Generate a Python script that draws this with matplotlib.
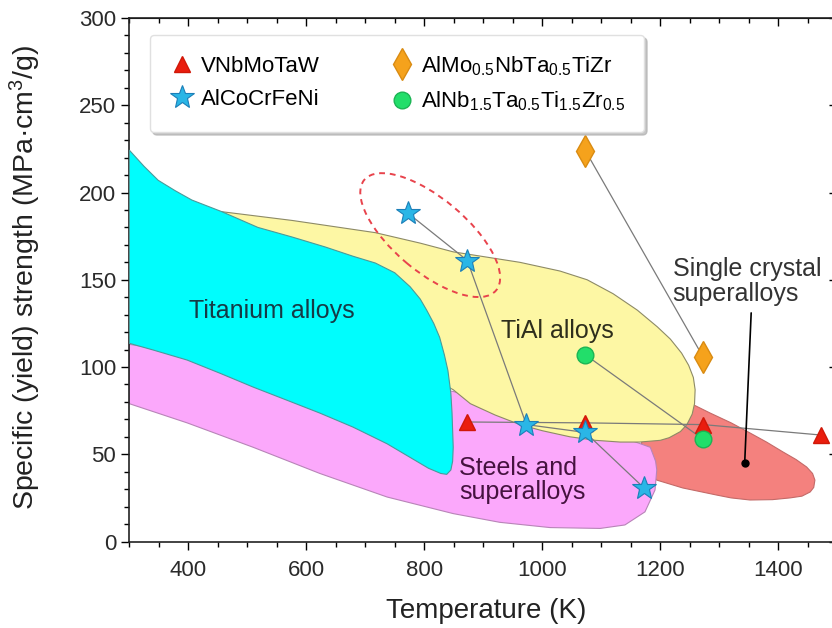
import numpy as np
import matplotlib
matplotlib.use('Agg')
import matplotlib.pyplot as plt
import matplotlib.transforms as mtransforms
from matplotlib.patches import Polygon, Ellipse

plt.rcParams['font.family'] = ['Liberation Sans', 'DejaVu Sans']
plt.rcParams['mathtext.fontset'] = 'custom'
plt.rcParams['mathtext.rm'] = 'Liberation Sans'
plt.rcParams['mathtext.it'] = 'Liberation Sans:italic'

# measured points (temperature K, specific strength MPa cm3/g)
vnb_T = [873, 1073, 1273, 1473]
vnb_s = [68.5, 68, 67, 61]
alco_T = [773, 873, 973, 1073, 1173]
alco_s = [188, 161, 67, 62.5, 30.5]
almo_T = [1073, 1273]
almo_s = [224, 105.5]
alnb_T = [1073, 1273]
alnb_s = [107, 58.5]

# property regions (boundary outlines)
ti_T = [300, 325, 349, 378, 406, 457, 518, 576, 632, 679, 717, 750, 776, 793, 804, 816, 826, 834,
        840, 845, 847, 849, 848, 845, 838, 828, 821, 807, 792, 737, 679, 623, 567, 510, 454, 398, 340, 300]
ti_s = [224.3, 215, 207, 201, 195.7, 189, 180, 174.5, 168.8, 163.5, 159.6, 154, 146, 139, 132.6, 125,
        117, 107, 98, 85, 73.6, 54, 46, 41, 38.5, 39, 40, 42, 45, 56, 65.6, 73.6, 81, 88.5, 96.4, 104, 109.8, 113.6]
tial_T = [457, 576, 717, 793, 849, 962, 1030, 1076, 1120, 1161, 1195, 1217, 1236, 1248, 1256, 1259,
          1258, 1254, 1245, 1234, 1215, 1200, 1165, 1132, 1090, 1047, 1000, 962, 920, 878, 849, 750, 600, 500]
tial_s = [189, 184, 177, 171, 166, 160, 155, 150, 142, 132.6, 123, 116, 108, 101, 94, 87,
          79, 73, 67, 63, 59.5, 58, 57, 57, 58, 60, 63.5, 67, 72.5, 79, 87, 105, 140, 170]
steel_T = [300, 600, 849, 1000, 1150, 1183, 1192, 1194, 1191, 1174, 1140, 1098, 1013, 928, 849, 737,
           623, 510, 398, 300]
steel_s = [113, 97, 86, 70, 58, 54, 46, 41, 29.5, 17, 9.5, 7.5, 8, 11, 16, 25.5, 39, 54, 68, 79]
sx_T = [1250, 1284, 1320, 1352, 1380, 1408, 1430, 1448, 1458, 1462, 1460, 1454, 1440, 1420, 1390,
        1352, 1320, 1296, 1238, 1194, 1165, 1170, 1200, 1230]
sx_s = [79.4, 73.7, 68, 62.2, 57, 51.3, 47, 42.7, 39, 35.2, 31, 28.4, 26, 25, 24, 23.8, 25, 26.6,
        30.7, 35.2, 45, 62, 74, 79]

fig = plt.figure(figsize=(8.32, 6.28), dpi=100)
ax = fig.add_axes([0.1554, 0.1377, 0.851, 0.8336])

def region(T, s, face, edge, z):
    ax.add_patch(Polygon(np.column_stack([T, s]), closed=True, facecolor=face,
                         edgecolor=edge, lw=0.8, zorder=z))

region(sx_T, sx_s, '#f4817e', '#c46a68', 1)
region(steel_T, steel_s, '#fba8fb', '#b884b8', 2)
region(tial_T, tial_s, '#fdf7a4', '#8d8a66', 3)
region(ti_T, ti_s, '#00fdfd', '#4a9a9a', 4)

# dashed ring around the AlCoCrFeNi points
ring = Ellipse((0, 0), 1.72, 0.73, angle=-40, fill=False, edgecolor='#e8434c', lw=1.4,
               ls=(0, (3, 2.5)), zorder=5,
               transform=fig.dpi_scale_trans + mtransforms.ScaledTranslation(810, 175.6, ax.transData))
ax.add_patch(ring)

lc = '#7a7a7a'
ax.plot(vnb_T, vnb_s, color=lc, lw=0.9, zorder=6)
ax.plot(alco_T, alco_s, color=lc, lw=0.9, zorder=6)
ax.plot(almo_T, almo_s, color=lc, lw=0.9, zorder=6)
ax.plot(alnb_T, alnb_s, color=lc, lw=0.9, zorder=6)

h1, = ax.plot(vnb_T, vnb_s, ls='none', marker='^', ms=12, mfc='#ea1d0e', mec='#d01808',
              label='VNbMoTaW', zorder=7)
h2, = ax.plot(alco_T, alco_s, ls='none', marker='*', ms=18, mfc='#2ab6e6', mec='#1c7fb8',
              mew=0.8, label='AlCoCrFeNi', zorder=7)
h3, = ax.plot(almo_T, almo_s, ls='none', marker='d', ms=16, mfc='#f5a21c', mec='#d98b12',
              label=r'AlMo$_{0.5}$NbTa$_{0.5}$TiZr', zorder=7)
h4, = ax.plot(alnb_T, alnb_s, ls='none', marker='o', ms=12, mfc='#22de6a', mec='#1bb454',
              label=r'AlNb$_{1.5}$Ta$_{0.5}$Ti$_{1.5}$Zr$_{0.5}$', zorder=7)

# single crystal pointer
ax.plot([1343], [45], 'o', color='black', ms=5, zorder=8)
ax.annotate('', xy=(1343, 45), xytext=(1354, 131),
            arrowprops=dict(arrowstyle='-', color='black', lw=1.2, shrinkA=0, shrinkB=0), zorder=8)

ax.text(542, 132, 'Titanium alloys', fontsize=18, color='#163a46', ha='center', va='center', zorder=8)
ax.text(1026, 120.6, 'TiAl alloys', fontsize=18, color='#2e2e1c', ha='center', va='center', zorder=8)
ax.text(859, 35, 'Steels and\nsuperalloys', fontsize=18, color='#45123f', ha='left', va='center',
        linespacing=1.0, zorder=8)
ax.text(1221, 149, 'Single crystal\nsuperalloys', fontsize=18, color='#333333', ha='left', va='center',
        linespacing=1.1, zorder=8)

ax.set_xlim(300, 1500)
ax.set_ylim(0, 300)
ax.set_xticks([400, 600, 800, 1000, 1200, 1400])
ax.set_xticks(np.arange(300, 1501, 50), minor=True)
ax.set_yticks([0, 50, 100, 150, 200, 250, 300])
ax.set_yticks(np.arange(0, 301, 10), minor=True)
ax.tick_params(which='both', direction='out', top=False, right=False, labelsize=16,
               labelcolor='#2a2a2a', width=1.0)
ax.tick_params(which='major', length=6)
ax.tick_params(which='minor', length=3.5)
ax.tick_params(axis='x', which='major', pad=7)
for sp in ax.spines.values():
    sp.set_linewidth(1.2)
    sp.set_color('#222222')

# mirrored inward ticks on top and right
axt = ax.secondary_xaxis('top')
axt.set_xticks([400, 600, 800, 1000, 1200, 1400])
axt.set_xticks(np.arange(300, 1501, 50), minor=True)
axt.tick_params(which='both', direction='in', labeltop=False, width=1.0)
axt.tick_params(which='major', length=6)
axt.tick_params(which='minor', length=3.5)
axr = ax.secondary_yaxis('right')
axr.set_yticks([0, 50, 100, 150, 200, 250, 300])
axr.set_yticks(np.arange(0, 301, 10), minor=True)
axr.tick_params(which='both', direction='in', labelright=False, width=1.0)
axr.tick_params(which='major', length=6)
axr.tick_params(which='minor', length=3.5)

ax.set_xlabel('Temperature (K)', fontsize=20, color='#222222')
ax.set_ylabel('Specific (yield) strength (MPa·cm$^3$/g)', fontsize=20.5, color='#222222')
ax.xaxis.set_label_coords(0.504, -0.108)
ax.yaxis.set_label_coords(-0.122, 0.504)

leg = ax.legend(handles=[h1, h2, h3, h4], ncol=2, loc='upper left', bbox_to_anchor=(0.0292, 0.9675),
                borderaxespad=0, fontsize=16, frameon=True, fancybox=True,
                shadow={'color': '#b0b0b0', 'alpha': 0.7},
                columnspacing=3.1, handletextpad=0.25, borderpad=0.85, labelspacing=0.55,
                handlelength=1.2)
leg.get_frame().set_edgecolor('#e0e0e0')
leg.set_zorder(10)

fig.savefig('out.png', dpi=100)
